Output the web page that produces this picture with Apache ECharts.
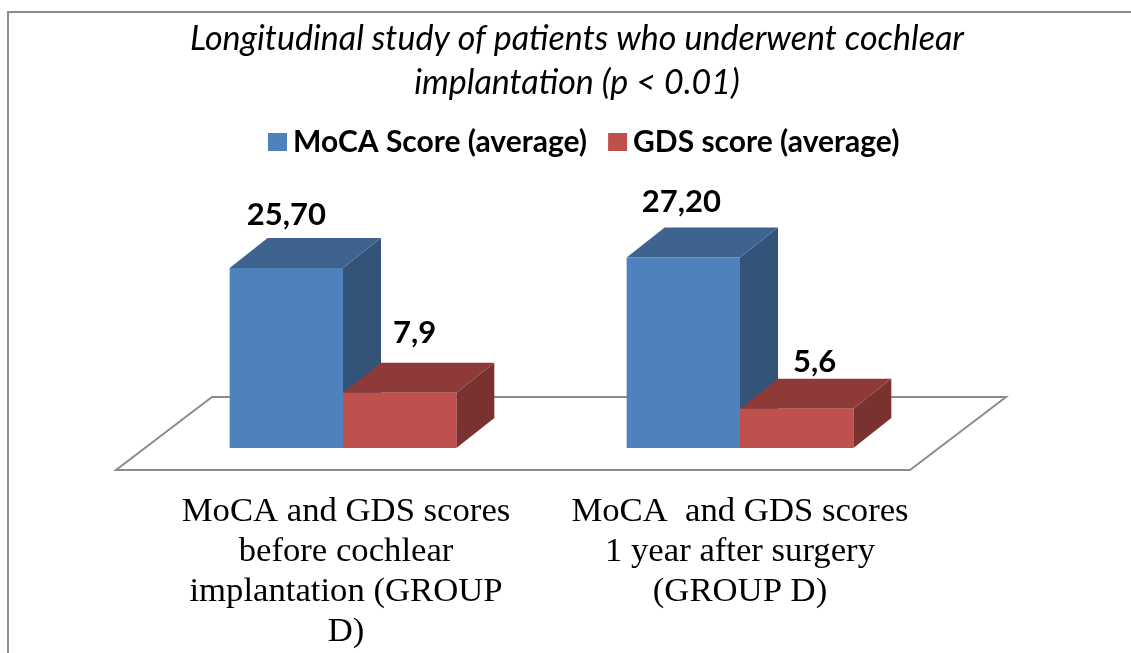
<!DOCTYPE html>
<html>
<head>
<meta charset="utf-8">
<style>
    html, body { margin: 0; padding: 0; background: #fff; }
    #main { width: 1131px; height: 653px; }
</style>
<script src="https://cdn.jsdelivr.net/npm/echarts@6/dist/echarts.min.js"></script>
</head>
<body>
<div id="main"></div>
<script>
var categories = [
    'MoCA and GDS scores\nbefore cochlear\nimplantation (GROUP\nD)',
    'MoCA  and GDS scores\n1 year after surgery\n(GROUP D)'
];
var seriesNames = ['MoCA Score (average)', 'GDS score (average)'];
var mocaValues = [25.7, 27.2];
var gdsValues = [7.9, 5.6];
var mocaLabels = ['25,70', '27,20'];
var gdsLabels = ['7,9', '5,6'];
var titleText = 'Longitudinal study of patients who underwent cochlear\nimplantation (p < 0.01)';

var myChart = echarts.init(document.getElementById('main'));

// colours of the three visible faces of each box
var blueFaces = { front: '#4f81bd', top: '#3e638f', side: '#335379' };
var redFaces = { front: '#c0504d', top: '#8e3a38', side: '#7a3230' };
var depthX = 38;
var depthY = 30;
var barRatio = 0.2855;

function box (params, api, faces, slot, labels, nudges) {
    var i = api.value(0);
    var base = api.coord([i, 0]);
    var top = api.coord([i, api.value(1)]);
    var w = api.size([1, 0])[0] * barRatio;
    var x0 = base[0] + slot * w;
    var x1 = x0 + w;
    var poly = function (points, color) {
        return { type: 'polygon', shape: { points: points }, style: { fill: color } };
    };
    return {
        type: 'group',
        children: [
            poly([[x1, top[1]], [x1 + depthX, top[1] - depthY], [x1 + depthX, base[1] - depthY], [x1, base[1]]], faces.side),
            poly([[x0, top[1]], [x0 + depthX, top[1] - depthY], [x1 + depthX, top[1] - depthY], [x1, top[1]]], faces.top),
            poly([[x0, top[1]], [x1, top[1]], [x1, base[1]], [x0, base[1]]], faces.front),
            {
                type: 'text',
                z2: 10,
                style: {
                    x: (x0 + x1) / 2 + nudges[i][0],
                    y: top[1] + nudges[i][1],
                    text: labels[i],
                    fill: '#000',
                    font: 'bold 31px Lato',
                    align: 'center',
                    verticalAlign: 'middle'
                }
            }
        ]
    };
}

// shifts of the value labels from the centre of the front face
var mocaNudges = [[0, -53], [-2, -56]];
var gdsNudges = [[15, -60], [18, -47]];

function floor (params, api) {
    var r = params.coordSys;
    var yFront = r.y + r.height + 22;
    var yBack = r.y + r.height - 51;
    var left = r.x - 28.5;
    var right = r.x + r.width - 28.5;
    return {
        type: 'polygon',
        shape: { points: [[left, yFront], [right, yFront], [right + 96, yBack], [left + 96, yBack]] },
        style: { fill: '#fff', stroke: '#8c8c8c', lineWidth: 2 }
    };
}

var option = {
    animation: false,
    backgroundColor: '#fff',
    title: {
        text: titleText,
        left: 572,
        top: 12,
        textAlign: 'center',
        textStyle: {
            fontFamily: 'Lato',
            fontStyle: 'italic',
            fontWeight: 'normal',
            fontSize: 34,
            lineHeight: 44,
            color: '#000'
        }
    },
    legend: {
        data: seriesNames,
        top: 122,
        left: 263,
        icon: 'rect',
        itemWidth: 19,
        itemHeight: 18,
        itemGap: 21,
        textStyle: { fontFamily: 'Lato', fontWeight: 'bold', fontSize: 30, color: '#000', padding: [0, 0, 0, 1] }
    },
    grid: { left: 144.5, width: 794, top: 238, height: 210, containLabel: false },
    xAxis: {
        type: 'category',
        data: [
            { value: categories[0], textStyle: { padding: [0, 0, 0, 6] } },
            { value: categories[1] }
        ],
        axisLine: { show: false },
        axisTick: { show: false },
        axisLabel: {
            interval: 0,
            margin: 44,
            fontFamily: 'Liberation Serif',
            fontSize: 34.7,
            lineHeight: 40,
            color: '#000'
        }
    },
    yAxis: { type: 'value', min: 0, max: 30, show: false },
    graphic: [{
        type: 'polyline',
        shape: { points: [[8, 653], [8, 12], [1131, 12]] },
        style: { stroke: '#8c8c8c', lineWidth: 2, fill: 'none' },
        silent: true,
        z: -1
    }],
    series: [
        { type: 'custom', name: 'floor', z: 1, silent: true, renderItem: floor, data: [0] },
        {
            type: 'custom', name: seriesNames[0], z: 2,
            itemStyle: { color: blueFaces.front },
            encode: { x: 0, y: 1 },
            data: mocaValues.map(function (v, i) { return [i, v]; }),
            renderItem: function (params, api) { return box(params, api, blueFaces, -1, mocaLabels, mocaNudges); }
        },
        {
            type: 'custom', name: seriesNames[1], z: 3,
            itemStyle: { color: redFaces.front },
            encode: { x: 0, y: 1 },
            data: gdsValues.map(function (v, i) { return [i, v]; }),
            renderItem: function (params, api) { return box(params, api, redFaces, 0, gdsLabels, gdsNudges); }
        }
    ]
};
myChart.setOption(option);
</script>
</body>
</html>
